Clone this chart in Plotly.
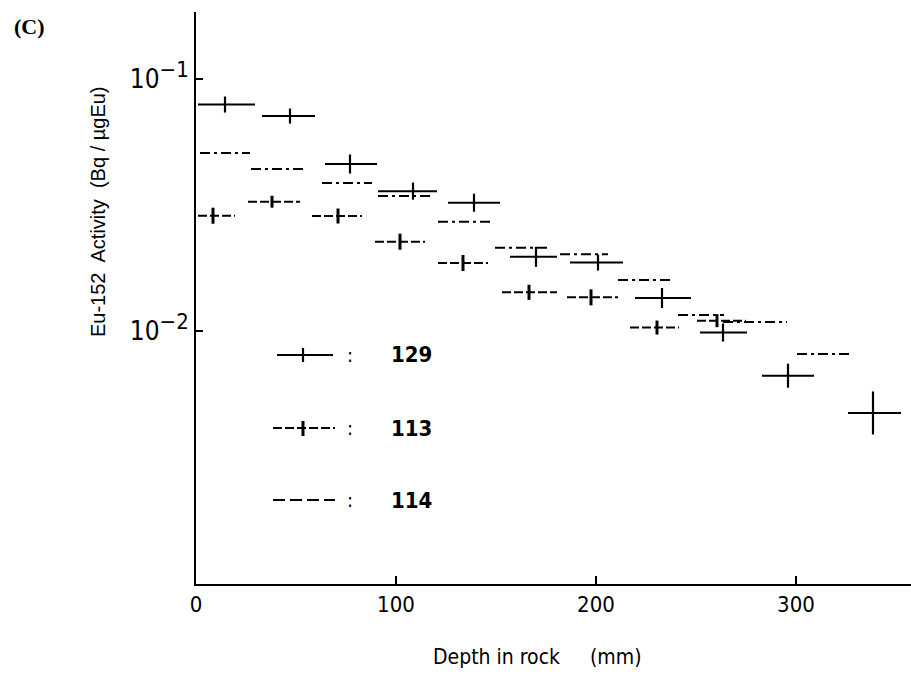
import plotly.graph_objects as go

# ---------------- data ----------------
# Sample 129 (solid line with cross)
s129_lo = [1, 33, 64.5, 91, 126, 157, 187, 219.5, 252, 283, 326]
s129_hi = [29.5, 59.5, 90.5, 120.5, 152, 180.5, 213.5, 247.5, 275.5, 309, 352.5]
s129_x = [14.5, 47, 77, 108.5, 139, 170, 201, 233, 263.5, 296, 338.5]
s129_y = [0.0792, 0.0713, 0.0460, 0.0359, 0.0323, 0.0197, 0.0187, 0.01352, 0.00986, 0.00665, 0.00473]
s129_err = [1.076, 1.071, 1.091, 1.081, 1.086, 1.096, 1.076, 1.096, 1.086, 1.116, 1.217]

# Sample 113 (dashed line with short tick)
s113_lo = [1, 26, 58, 89.5, 121, 153, 185.5, 217, 250.5]
s113_hi = [19.5, 52, 83, 114.5, 146, 180.5, 211, 241.5, 275]
s113_x = [8.5, 38, 71, 102, 133.5, 166.5, 197.5, 230.5, 260.5]
s113_y = [0.02868, 0.03259, 0.02860, 0.02262, 0.01862, 0.01424, 0.01360, 0.01032, 0.01099]
s113_err = [1.076, 1.056, 1.071, 1.076, 1.076, 1.071, 1.076, 1.066, 1.061]

# Sample 114 (dashed line only)
s114_lo = [2, 27.5, 63, 91, 121, 149.5, 182, 211, 241, 263.5, 300.5]
s114_hi = [27, 53.5, 88, 117, 147, 176, 206, 237, 264, 295.5, 326.5]
s114_y = [0.05084, 0.04394, 0.03867, 0.03432, 0.02715, 0.02141, 0.02016, 0.01594, 0.01157, 0.01086, 0.00810]

legend_labels = ["129", "113", "114"]
x_ticks = [0, 100, 200, 300]
y_ticks = [0.01, 0.1]
y_ticktext = ["10<sup><span style='font-size:22px'>\u22122</span></sup>",
              "10<sup><span style='font-size:22px'>\u22121</span></sup>"]

# ---------------- figure ----------------
W, H = 911, 676
ML, MR, MT, MB = 196, 0, 12, 92
PW, PH = W - ML - MR, H - MT - MB


def px(x):
    return (x - ML) / PW


def py(y):
    return (H - MB - y) / PH


def segments(lo, hi, vals):
    xs, ys = [], []
    for a, b, v in zip(lo, hi, vals):
        xs += [a, b, None]
        ys += [v, v, None]
    return xs, ys


fig = go.Figure()

# horizontal bars
for lo, hi, vals, dash, name in [
    (s129_lo, s129_hi, s129_y, "solid", "129"),
    (s113_lo, s113_hi, s113_y, "9px,3px", "113"),
    (s114_lo, s114_hi, s114_y, "10px,4px,3px,4px", "114"),
]:
    xs, ys = segments(lo, hi, vals)
    fig.add_trace(go.Scatter(x=xs, y=ys, mode="lines", name=name, showlegend=False,
                             line=dict(color="black", width=2, dash=dash),
                             hoverinfo="skip"))

# vertical error bars
for xc, vals, fac, thick in [
    (s129_x, s129_y, s129_err, 2.2),
    (s113_x, s113_y, s113_err, 3),
]:
    plus = [v * (f - 1) for v, f in zip(vals, fac)]
    minus = [v * (1 - 1 / f) for v, f in zip(vals, fac)]
    fig.add_trace(go.Scatter(x=xc, y=vals, mode="markers", showlegend=False,
                             marker=dict(size=1, color="rgba(0,0,0,0)"),
                             error_y=dict(type="data", symmetric=False, array=plus,
                                          arrayminus=minus, color="black",
                                          thickness=thick, width=0)))

font_narrow = "Liberation Sans Narrow, DejaVu Sans Condensed, Arial Narrow, sans-serif"

shapes = []
annotations = []
# custom legend
leg_y = [355, 428, 500]
for i, lab in enumerate(legend_labels):
    y = leg_y[i]
    if i == 0:
        shapes.append(dict(type="line", xref="paper", yref="paper", x0=px(277), x1=px(333),
                           y0=py(y), y1=py(y), line=dict(color="black", width=2)))
        shapes.append(dict(type="line", xref="paper", yref="paper", x0=px(303), x1=px(303),
                           y0=py(y - 7), y1=py(y + 7), line=dict(color="black", width=2.2)))
    elif i == 1:
        shapes.append(dict(type="line", xref="paper", yref="paper", x0=px(273), x1=px(335),
                           y0=py(y), y1=py(y), line=dict(color="black", width=2, dash="9px,3px")))
        shapes.append(dict(type="line", xref="paper", yref="paper", x0=px(303), x1=px(303),
                           y0=py(y - 7), y1=py(y + 8), line=dict(color="black", width=3)))
    else:
        shapes.append(dict(type="line", xref="paper", yref="paper", x0=px(273), x1=px(335),
                           y0=py(y), y1=py(y), line=dict(color="black", width=2, dash="12px,5px")))
    annotations.append(dict(x=px(350), y=py(y), xref="paper", yref="paper", text=":",
                            showarrow=False, xanchor="center", yanchor="middle",
                            font=dict(size=20, color="black", family=font_narrow)))
    annotations.append(dict(x=px(389), y=py(y), xref="paper", yref="paper", text="<b>" + lab + "</b>",
                            showarrow=False, xanchor="left", yanchor="middle",
                            font=dict(size=22, color="black", family=font_narrow)))

annotations.append(dict(x=px(29), y=py(26), xref="paper", yref="paper", text="<b>(C)</b>",
                        showarrow=False, xanchor="center", yanchor="middle",
                        font=dict(size=22, color="black",
                                  family="Liberation Serif, Times New Roman, serif")))
annotations.append(dict(x=px(98), y=py(212), xref="paper", yref="paper",
                        text="Eu-152\u00a0 Activity\u00a0 (Bq\u00a0/\u00a0\u00b5gEu)",
                        textangle=-90, showarrow=False, xanchor="center", yanchor="middle",
                        font=dict(size=20, color="black", family="Liberation Sans, Arial, sans-serif")))
annotations.append(dict(x=px(537), y=py(657), xref="paper", yref="paper",
                        text="Depth in rock\u00a0\u00a0\u00a0\u00a0\u00a0(mm)",
                        showarrow=False, xanchor="center", yanchor="middle",
                        font=dict(size=21, color="black", family=font_narrow)))

fig.update_layout(
    width=W, height=H,
    margin=dict(l=ML, r=MR, t=MT, b=MB),
    paper_bgcolor="white", plot_bgcolor="white",
    shapes=shapes, annotations=annotations,
    xaxis=dict(range=[0, 357.5], showline=True, linecolor="black", linewidth=2,
               ticks="inside", ticklen=8, tickwidth=2, tickcolor="black",
               tickvals=x_ticks, ticktext=[str(v) for v in x_ticks],
               showgrid=False, zeroline=False,
               tickfont=dict(size=22, color="black", family=font_narrow)),
    yaxis=dict(type="log", range=[-3.004, -0.734], showline=True, linecolor="black", linewidth=2,
               ticks="inside", ticklen=7, tickwidth=2, tickcolor="black",
               tickvals=y_ticks, ticktext=y_ticktext, showgrid=False, zeroline=False,
               tickfont=dict(size=26, color="black", family=font_narrow)),
)

fig.write_html("out.html")
